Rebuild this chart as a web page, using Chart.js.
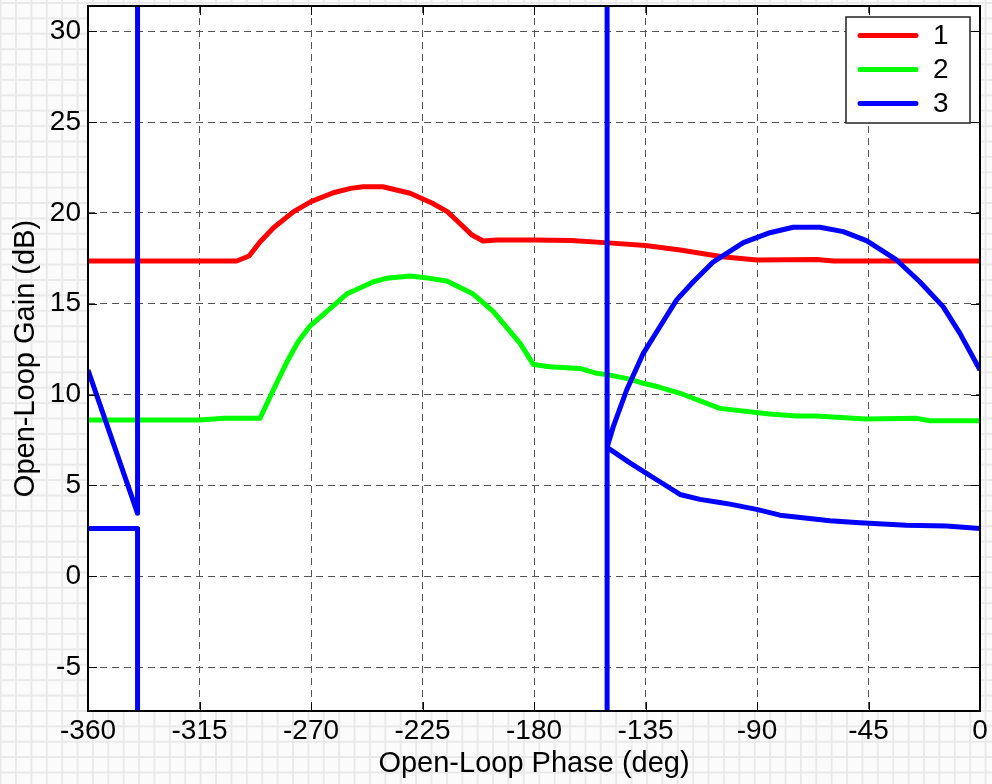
<!DOCTYPE html>
<html lang="en">
  <head>
    <meta charset="UTF-8" />
    <title>Open-Loop Gain vs Phase</title>
    <style>
      * {
        box-sizing: border-box;
        margin: 0;
        padding: 0;
      }

      body {
        width: 992px;
        height: 784px;
        overflow: hidden;
        background-color: #fbfbfb;
        background-image: linear-gradient(to right, #e9e9e9 2px, transparent 2px),
          linear-gradient(to bottom, #e9e9e9 2px, transparent 2px);
        background-size: 15.4px 15.4px;
        background-position: 15px 2px;
      }

      canvas {
        display: block;
      }
    </style>
    <script src="https://cdn.jsdelivr.net/npm/chart.js"></script>
  </head>
  <body>
    <canvas id="nichols" width="992" height="784"></canvas>
    <script>
      // axis ticks
      const phaseTicks = [-360, -315, -270, -225, -180, -135, -90, -45, 0];
      const gainTicks = [-5, 0, 5, 10, 15, 20, 25, 30];

      // series 1
      const phase1 = [-360, -300, -295, -290.6, -285, -277, -270, -261, -254, -249, -241, -230, -221, -215, -210, -205, -200.5, -195, -180, -165, -150, -135, -121, -104, -90, -66, -59, 0];
      const gain1 = [17.35, 17.35, 17.63, 18.4, 19.2, 20.07, 20.62, 21.11, 21.35, 21.44, 21.44, 21.08, 20.53, 20.07, 19.43, 18.78, 18.45, 18.51, 18.51, 18.48, 18.35, 18.2, 17.96, 17.59, 17.41, 17.44, 17.35, 17.35];

      // series 2
      const phase2 = [-360, -315, -305, -290.6, -285.2, -280, -275.2, -270.4, -263.7, -255.6, -244.8, -239.5, -230, -224.7, -215.2, -204.5, -196.4, -185.6, -180.3, -173.6, -161.5, -154.7, -149.3, -141.3, -135.9, -129.2, -121, -105, -85, -74, -66, -46, -25.6, -20.2, 0];
      const gain2 = [8.6, 8.6, 8.69, 8.69, 10.25, 11.72, 12.91, 13.77, 14.56, 15.53, 16.21, 16.4, 16.53, 16.45, 16.25, 15.53, 14.56, 12.82, 11.66, 11.53, 11.44, 11.17, 11.07, 10.85, 10.62, 10.4, 10.07, 9.24, 8.93, 8.82, 8.82, 8.65, 8.69, 8.56, 8.56];

      // series 3 (phase wraps, null = break in the line)
      const phase3 = [
        -360, -340, -340, null,
        -340, -340, -360, null,
        0, -8.1, -14.9, -24.3, -33.7, -45.8, -55.2, -64.6, -75.4, -84.8, -95.5, -107.6, -115.7, -122.5, -129.2, -135.9, -142.6, -148, -150.5, -150.5, null,
        -150.5, -150.5, -149.3, -141.3, -134.6, -129.2, -121.1, -113, -105, -100.9, -90.2, -80.7, -60.6, -48.5, -29.7, -13.5, 0,
      ];
      const gain3 = [
        2.63, 2.63, -100, null,
        100, 3.46, 11.35, null,
        11.35, 13.37, 14.84, 16.21, 17.41, 18.47, 18.97, 19.21, 19.21, 18.91, 18.36, 17.31, 16.21, 15.2, 13.73, 12.27, 10.25, 8.23, 7.1, 100, null,
        -100, 7.1, 6.98, 6.24, 5.66, 5.2, 4.5, 4.23, 4.06, 3.97, 3.68, 3.36, 3.05, 2.94, 2.81, 2.76, 2.63,
      ];

      const labels = ["1", "2", "3"];
      const colors = ["#ff0000", "#00ff00", "#0000ff"];

      const FONT = "Arial, 'Liberation Sans', sans-serif";

      function toPoints(xs, ys) {
        return xs.map((x, i) => ({ x: x === null ? NaN : x, y: ys[i] }));
      }

      function series(i, xs, ys) {
        return {
          label: labels[i],
          data: toPoints(xs, ys),
          borderColor: colors[i],
          backgroundColor: colors[i],
          borderWidth: 5,
          pointRadius: 0,
          tension: 0,
          spanGaps: false,
          borderJoinStyle: "round",
          order: 3 - i,
        };
      }

      // white plot area, box, inner tick marks, legend
      const axesBox = {
        id: "axesBox",
        beforeDraw(chart) {
          const { ctx, chartArea: a } = chart;
          ctx.save();
          ctx.fillStyle = "#ffffff";
          ctx.fillRect(a.left, a.top, a.right - a.left, a.bottom - a.top);
          ctx.restore();
        },
        afterDraw(chart) {
          const { ctx, chartArea: a, scales } = chart;
          const tl = 9;
          ctx.save();
          ctx.strokeStyle = "#000";
          ctx.lineWidth = 1;
          ctx.beginPath();
          phaseTicks.forEach((v) => {
            const x = Math.round(scales.x.getPixelForValue(v)) + 0.5;
            ctx.moveTo(x, a.top);
            ctx.lineTo(x, a.top + tl);
            ctx.moveTo(x, a.bottom);
            ctx.lineTo(x, a.bottom - tl);
          });
          gainTicks.forEach((v) => {
            const y = Math.round(scales.y.getPixelForValue(v)) + 0.5;
            ctx.moveTo(a.left, y);
            ctx.lineTo(a.left + tl, y);
            ctx.moveTo(a.right, y);
            ctx.lineTo(a.right - tl, y);
          });
          ctx.stroke();

          ctx.lineWidth = 2;
          ctx.strokeRect(a.left, a.top, a.right - a.left, a.bottom - a.top);

          // legend
          const bw = 124;
          const bh = 106;
          const bx = a.right - 10 - bw;
          const by = a.top + 11;
          ctx.fillStyle = "#ffffff";
          ctx.fillRect(bx, by, bw, bh);
          ctx.lineWidth = 1.5;
          ctx.strokeStyle = "#222";
          ctx.strokeRect(bx, by, bw, bh);
          ctx.font = "28px " + FONT;
          ctx.textBaseline = "middle";
          ctx.textAlign = "left";
          chart.data.datasets.forEach((ds, i) => {
            const y = by + 18.5 + i * 34;
            ctx.strokeStyle = ds.borderColor;
            ctx.lineWidth = 5;
            ctx.lineCap = "round";
            ctx.beginPath();
            ctx.moveTo(bx + 14, y);
            ctx.lineTo(bx + 70, y);
            ctx.stroke();
            ctx.fillStyle = "#000";
            ctx.fillText(ds.label, bx + 87, y + 1);
          });
          ctx.restore();
        },
      };

      new Chart(document.getElementById("nichols"), {
        type: "line",
        data: {
          datasets: [
            series(0, phase1, gain1),
            series(1, phase2, gain2),
            series(2, phase3, gain3),
          ],
        },
        options: {
          responsive: false,
          animation: false,
          layout: { padding: { top: 6, right: 12, left: 0, bottom: 0 } },
          plugins: {
            legend: { display: false },
            tooltip: { enabled: false },
          },
          scales: {
            x: {
              type: "linear",
              min: -360,
              max: 0,
              afterBuildTicks(scale) {
                scale.ticks = phaseTicks.map((v) => ({ value: v }));
              },
              afterFit(scale) {
                scale.height = 73;
                scale.paddingLeft = 0;
                scale.paddingRight = 0;
              },
              grid: {
                color: "#555",
                lineWidth: 1,
                drawTicks: false,
              },
              border: { display: false, dash: [7, 5] },
              ticks: {
                color: "#000",
                padding: 3,
                maxRotation: 0,
                font: { family: FONT, size: 28 },
                callback: (v) => String(v),
              },
              title: {
                display: true,
                text: "Open-Loop Phase (deg)",
                color: "#000",
                font: { family: FONT, size: 29 },
                padding: { top: 0, bottom: 3 },
              },
            },
            y: {
              type: "linear",
              min: -7.42,
              max: 31.39,
              afterBuildTicks(scale) {
                scale.ticks = gainTicks.map((v) => ({ value: v }));
              },
              afterFit(scale) {
                scale.width = 88;
                scale.paddingTop = 0;
                scale.paddingBottom = 0;
              },
              grid: {
                color: "#555",
                lineWidth: 1,
                drawTicks: false,
              },
              border: { display: false, dash: [7, 5] },
              ticks: {
                color: "#000",
                padding: 7,
                font: { family: FONT, size: 28 },
                callback: (v) => String(v),
              },
              title: {
                display: true,
                text: "Open-Loop Gain (dB)",
                color: "#000",
                font: { family: FONT, size: 29 },
                padding: { top: 9, bottom: 0 },
              },
            },
          },
        },
        plugins: [axesBox],
      });
    </script>
  </body>
</html>
